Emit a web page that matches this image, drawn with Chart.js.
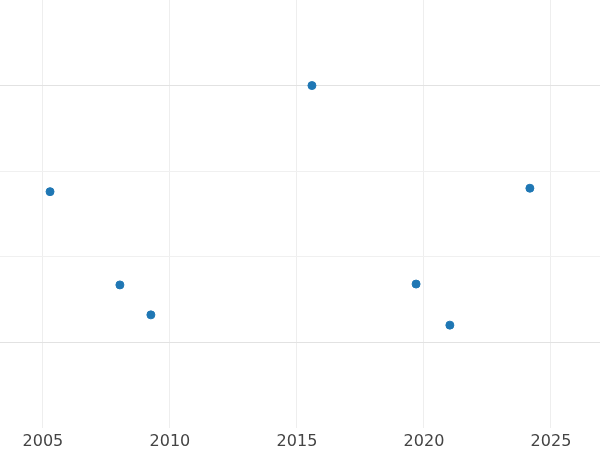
<!DOCTYPE html>
<html><head><script src="https://cdn.jsdelivr.net/npm/chart.js@4"></script>
<style>html,body{margin:0;padding:0;background:#fff;overflow:hidden}#w{width:610px;height:460px;margin:-5px 0 0 -5px}</style></head>
<body><div id="w"><canvas id="c"></canvas></div>
<script>
const years = [2005.28, 2008.03, 2009.25, 2015.59, 2019.69, 2021.02, 2024.17];
const values = [1.76, 0.67, 0.32, 3.0, 0.68, 0.2, 1.8];
const xTicks = [2005, 2010, 2015, 2020, 2025];
new Chart(document.getElementById('c'), {
  type: 'scatter',
  data: { datasets: [{ data: years.map((x, i) => ({ x, y: values[i] })), backgroundColor: '#1f77b4', borderColor: '#1f77b4', pointRadius: 4 }] },
  options: {
    responsive: true, maintainAspectRatio: false, animation: false,
    layout: { padding: 0 },
    plugins: { legend: { display: false }, tooltip: { enabled: false } },
    scales: {
      x: { type: 'linear', min: 2003.31, max: 2026.93,
        afterBuildTicks: a => { a.ticks = xTicks.map(v => ({ value: v })); },
        ticks: { font: { family: 'DejaVu Sans', size: 16 }, color: '#444', padding: 4, callback: v => String(v) },
        grid: { color: '#eeeeee', drawTicks: false }, border: { display: false } },
      y: { min: -1, max: 4, ticks: { display: false, stepSize: 1 },
        grid: { drawTicks: false, color: c => (c.tick.value === 0 || c.tick.value === 3) ? '#e2e2e2' : ((c.tick.value === 1 || c.tick.value === 2) ? '#f0f0f0' : 'rgba(0,0,0,0)') },
        border: { display: false } }
    }
  }
});
</script></body></html>
